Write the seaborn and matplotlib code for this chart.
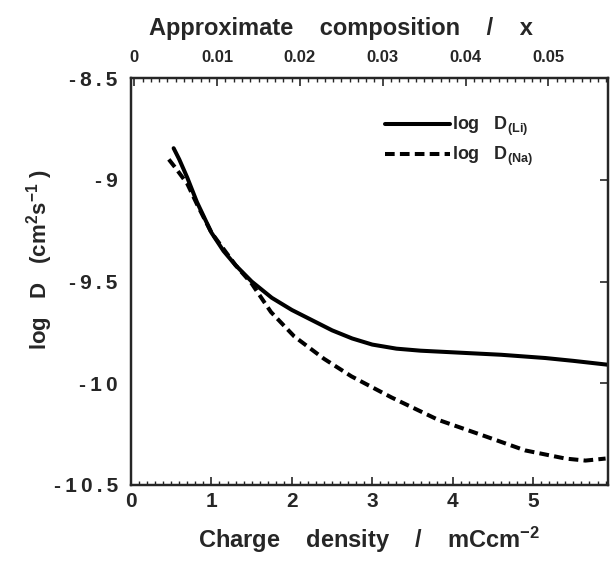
import numpy as np
import pandas as pd
import matplotlib
matplotlib.use("Agg")
import matplotlib.pyplot as plt
import seaborn as sns
from matplotlib.ticker import MultipleLocator

# Data
li_x = [0.53, 0.6, 0.7, 0.82, 1.0, 1.15, 1.3, 1.5, 1.75, 2.0, 2.25, 2.5, 2.75,
        3.0, 3.3, 3.6, 4.1, 4.6, 5.15, 5.5, 5.95]
li_y = [-8.845, -8.90, -8.99, -9.11, -9.26, -9.35, -9.42, -9.50, -9.58, -9.64,
        -9.69, -9.74, -9.78, -9.81, -9.83, -9.84, -9.85, -9.86, -9.876, -9.89, -9.91]
na_x = [0.47, 0.55, 0.7, 0.82, 1.0, 1.15, 1.3, 1.5, 1.74, 2.03, 2.4, 2.74,
        3.24, 3.82, 4.4, 4.9, 5.4, 5.65, 5.9]
na_y = [-8.90, -8.94, -9.02, -9.12, -9.26, -9.34, -9.42, -9.51, -9.65, -9.77,
        -9.88, -9.966, -10.07, -10.18, -10.26, -10.33, -10.37, -10.38, -10.37]

bottom_ticks = [0, 1, 2, 3, 4, 5]
bottom_labels = ["0", "1", "2", "3", "4", "5"]
left_ticks = [-10.5, -10, -9.5, -9, -8.5]
left_labels = ["-10.5", "-10", "-9.5", "-9", "-8.5"]
top_ticks = [0, 0.01, 0.02, 0.03, 0.04, 0.05]
top_labels = ["0", "0.01", "0.02", "0.03", "0.04", "0.05"]

label_li = r"log   D$_{(Li)}$"
label_na = r"log   D$_{(Na)}$"

df = pd.DataFrame({
    "x": li_x + na_x,
    "y": li_y + na_y,
    "series": [label_li] * len(li_x) + [label_na] * len(na_x),
})

sns.set_style("white")
plt.rcParams["font.family"] = ["Liberation Sans", "DejaVu Sans"]
plt.rcParams["mathtext.fontset"] = "custom"
plt.rcParams["mathtext.rm"] = "Liberation Sans:bold"
plt.rcParams["mathtext.bf"] = "Liberation Sans:bold"
plt.rcParams["mathtext.it"] = "Liberation Sans:bold"
plt.rcParams["mathtext.default"] = "bf"

THIN = "\u2009"

def spaced(s):
    return THIN.join(list(s))

fig = plt.figure(figsize=(6.14, 5.62), dpi=100)
ax = fig.add_axes([131 / 614, 1 - 485 / 562, 477 / 614, 407 / 562])

sns.lineplot(data=df, x="x", y="y", hue="series", style="series",
             palette={label_li: "black", label_na: "black"},
             dashes={label_li: "", label_na: (2.4, 1.3)},
             linewidth=2.9, ax=ax, sort=False)

ax.set_xlim(0, 5.93)
ax.set_ylim(-10.5, -8.5)
ax.set_xticks(bottom_ticks)
ax.set_xticklabels(bottom_labels, fontsize=15, fontweight="bold")
ax.set_yticks(left_ticks)
ax.set_yticklabels([spaced(t) for t in left_labels], fontsize=15, fontweight="bold")
ax.xaxis.set_minor_locator(MultipleLocator(0.1))
ax.tick_params(axis="x", which="major", direction="in", length=6, width=1.2,
               top=False, pad=5)
ax.tick_params(axis="y", which="major", direction="in", length=6, width=1.2,
               right=True, pad=9.5)
ax.tick_params(axis="x", which="minor", direction="in", length=3, width=1.0, top=False)
ax.set_xlabel("Charge    density    /    mCcm$^{-2}$", fontsize=17,
              fontweight="bold", labelpad=10)
ax.set_ylabel("log   D   (cm$^{2}$s$^{-1}$ )", fontsize=16, fontweight="bold")
ax.yaxis.set_label_coords(-0.16, 0.553)
for s in ax.spines.values():
    s.set_linewidth(1.6)
    s.set_color("black")

ax2 = ax.twiny()
ax2.set_xlim(-0.0004, 0.0572)
ax2.set_xticks(top_ticks)
ax2.set_xticklabels(top_labels, fontsize=12, fontweight="bold")
ax2.xaxis.set_minor_locator(MultipleLocator(0.001))
ax2.tick_params(axis="x", which="major", direction="in", length=6, width=1.2, pad=9)
ax2.tick_params(axis="x", which="minor", direction="in", length=3, width=1.0)
ax2.set_xlabel("Approximate    composition    /    x", fontsize=17,
               fontweight="bold")
ax2.xaxis.set_label_coords(0.44, 1.105)
for s in ax2.spines.values():
    s.set_linewidth(1.6)

leg = ax.legend(loc="upper left", bbox_to_anchor=(0.532, 0.91), frameon=False,
                borderpad=0, borderaxespad=0,
                handlelength=3.6, handletextpad=0.15, labelspacing=0.4,
                prop={"size": 13, "weight": "bold"}, title=None)

fig.savefig("out.png", dpi=100)
